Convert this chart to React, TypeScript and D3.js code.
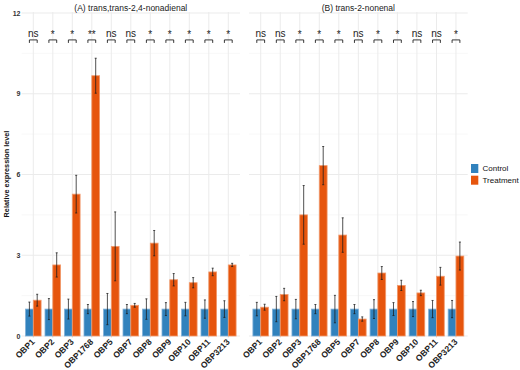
import React from "react";
import * as d3 from "d3";

// genes on the x axis (same for both panels)
const categories = ["OBP1", "OBP2", "OBP3", "OBP1768", "OBP5", "OBP7", "OBP8", "OBP9", "OBP10", "OBP11", "OBP3213"];
const groups = ["Control", "Treatment"];

// (A) trans,trans-2,4-nonadienal
const controlA = [1, 1, 1, 1, 1, 1, 1, 1, 1, 1, 1];
const controlSeA = [0.26, 0.39, 0.37, 0.17, 0.58, 0.17, 0.38, 0.24, 0.25, 0.34, 0.31];
const treatA = [1.33, 2.64, 5.27, 9.67, 3.33, 1.14, 3.45, 2.09, 1.98, 2.38, 2.64];
const treatSeA = [0.22, 0.45, 0.7, 0.65, 1.28, 0.07, 0.47, 0.23, 0.19, 0.14, 0.06];
const sigA = ["ns", "*", "*", "**", "ns", "ns", "*", "*", "*", "*", "*"];

// (B) trans-2-nonenal
const controlB = [1, 1, 1, 1, 1, 1, 1, 1, 1, 1, 1];
const controlSeB = [0.25, 0.47, 0.36, 0.17, 0.51, 0.17, 0.35, 0.24, 0.28, 0.32, 0.32];
const treatB = [1.07, 1.54, 4.5, 6.33, 3.75, 0.63, 2.34, 1.88, 1.6, 2.22, 2.97];
const treatSeB = [0.11, 0.23, 1.09, 0.71, 0.64, 0.08, 0.24, 0.19, 0.1, 0.33, 0.52];
const sigB = ["ns", "ns", "*", "*", "*", "ns", "*", "*", "ns", "ns", "*"];

const yTicks = [0, 3, 6, 9, 12];
const yMinor = [1.5, 4.5, 7.5, 10.5];
const sigLevel = 11;

const colors: Record<string, string> = { Control: "#3182bd", Treatment: "#e6550d" };
const edge: Record<string, string> = { Control: "#7fb0d8", Treatment: "#f29a6c" };

const W = 520;
const H = 370;
const top = 12;
const bottom = 338;
const font = "Liberation Sans, Arial, sans-serif";

const y = d3.scaleLinear().domain([0, 12]).range([336, 13]);

type PanelProps = {
  title: string;
  x0: number;
  x1: number;
  control: number[];
  controlSe: number[];
  treat: number[];
  treatSe: number[];
  sig: string[];
};

const Panel = ({ title, x0, x1, control, controlSe, treat, treatSe, sig }: PanelProps) => {
  const x = d3.scaleBand().domain(categories).range([x0, x1]).paddingInner(0).paddingOuter(0.1);
  const step = x.step();
  const sub = d3.scaleBand().domain(groups).range([-0.4 * step, 0.4 * step]);
  const bw = sub.bandwidth();
  const cx = (c: string) => (x(c) as number) + step / 2;

  const rows = categories.flatMap((c, i) => [
    { c, g: "Control", v: control[i], se: controlSe[i] },
    { c, g: "Treatment", v: treat[i], se: treatSe[i] },
  ]);

  return (
    <g>
      {yMinor.map((t) => (
        <line key={"m" + t} x1={x0} x2={x1} y1={y(t)} y2={y(t)} stroke="#f3f3f3" strokeWidth={0.6} />
      ))}
      {yTicks.map((t) => (
        <line key={"g" + t} x1={x0} x2={x1} y1={y(t)} y2={y(t)} stroke="#ebebeb" strokeWidth={1} />
      ))}
      {categories.map((c) => (
        <line key={"v" + c} x1={cx(c)} x2={cx(c)} y1={top} y2={bottom} stroke="#ebebeb" strokeWidth={1} />
      ))}
      {rows.map((d) => {
        const bx = cx(d.c) + (sub(d.g) as number);
        return (
          <rect
            key={d.c + d.g}
            x={bx}
            y={y(d.v)}
            width={bw}
            height={y(0) - y(d.v)}
            fill={colors[d.g]}
            stroke={edge[d.g]}
            strokeWidth={0.8}
          />
        );
      })}
      {rows.map((d) => {
        const mx = cx(d.c) + (sub(d.g) as number) + bw / 2;
        const hi = y(d.v + d.se);
        const lo = y(Math.max(0, d.v - d.se));
        return (
          <g key={"e" + d.c + d.g} stroke="#1a1a1a" strokeWidth={0.9} strokeOpacity={0.85}>
            <line x1={mx} x2={mx} y1={hi} y2={lo} />
            <line x1={mx - 1} x2={mx + 1} y1={hi} y2={hi} />
            <line x1={mx - 1} x2={mx + 1} y1={lo} y2={lo} />
          </g>
        );
      })}
      {categories.map((c, i) => {
        const a = cx(c) + (sub("Control") as number) + bw / 2;
        const b = cx(c) + (sub("Treatment") as number) + bw / 2;
        const yy = y(sigLevel);
        const star = sig[i] !== "ns";
        return (
          <g key={"s" + c}>
            <path d={`M${a},${yy + 3}V${yy}H${b}V${yy + 3}`} fill="none" stroke="#222" strokeWidth={0.9} />
            <text
              x={(a + b) / 2}
              y={star ? yy - 1.5 : yy - 3.3}
              textAnchor="middle"
              fontFamily={font}
              fontSize={10}
              fill="#222"
            >
              {sig[i]}
            </text>
          </g>
        );
      })}
      {categories.map((c) => (
        <text
          key={"x" + c}
          transform={`translate(${cx(c) + 2},${bottom + 4.5}) rotate(-45)`}
          textAnchor="end"
          fontFamily={font}
          fontSize={8.5}
          fontWeight="bold"
          fill="#222"
        >
          {c}
        </text>
      ))}
      <text x={(x0 + x1) / 2} y={11} textAnchor="middle" fontFamily={font} fontSize={8.5} fill="#1a1a1a">
        {title}
      </text>
    </g>
  );
};

export default function App() {
  return (
    <svg width={W} height={H} style={{ position: "absolute", left: 0, top: 0 }}>
      <rect width={W} height={H} fill="#fff" />
      {yTicks.map((t) => (
        <text
          key={t}
          x={20.5}
          y={y(t) + 2.5}
          textAnchor="end"
          fontFamily={font}
          fontSize={7}
          fontWeight="bold"
          fill="#333"
        >
          {t}
        </text>
      ))}
      <text
        transform={`translate(9,174) rotate(-90)`}
        textAnchor="middle"
        fontFamily={font}
        fontSize={7.3}
        fontWeight="bold"
        fill="#111"
      >
        Relative expression level
      </text>
      <Panel
        title="(A) trans,trans-2,4-nonadienal"
        x0={21.6}
        x1={240}
        control={controlA}
        controlSe={controlSeA}
        treat={treatA}
        treatSe={treatSeA}
        sig={sigA}
      />
      <Panel
        title="(B) trans-2-nonenal"
        x0={249}
        x1={467.7}
        control={controlB}
        controlSe={controlSeB}
        treat={treatB}
        treatSe={treatSeB}
        sig={sigB}
      />
      {groups.map((g, i) => (
        <g key={g} transform={`translate(471,${164 + i * 11.7})`}>
          <rect width={7.3} height={9} fill={colors[g]} />
          <text x={11.5} y={7.3} fontFamily={font} fontSize={8} fill="#111">
            {g}
          </text>
        </g>
      ))}
    </svg>
  );
}
